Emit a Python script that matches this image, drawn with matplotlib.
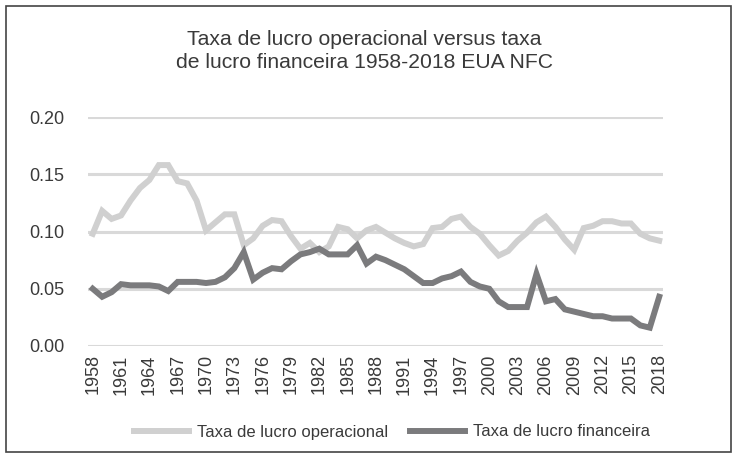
import numpy as np
import matplotlib
matplotlib.use("Agg")
import matplotlib.pyplot as plt
from matplotlib.patches import Rectangle

plt.rcParams['font.family'] = ['Liberation Sans', 'DejaVu Sans']

years = list(range(1958, 2019))

# taxa de lucro operacional (light gray)
operacional = [
    0.098, 0.118, 0.111, 0.114, 0.127, 0.138, 0.145, 0.158, 0.158, 0.144,
    0.142, 0.127, 0.101, 0.108, 0.115, 0.115, 0.088, 0.094, 0.105, 0.110,
    0.109, 0.096, 0.085, 0.090, 0.082, 0.087, 0.104, 0.102, 0.094, 0.101,
    0.104, 0.099, 0.094, 0.090, 0.087, 0.089, 0.103, 0.104, 0.111, 0.113,
    0.104, 0.098, 0.088, 0.079, 0.083, 0.092, 0.099, 0.108, 0.113, 0.104,
    0.093, 0.084, 0.103, 0.105, 0.109, 0.109, 0.107, 0.107, 0.098, 0.094,
    0.092,
]

# taxa de lucro financeira (dark gray)
financeira = [
    0.050, 0.043, 0.047, 0.054, 0.053, 0.053, 0.053, 0.052, 0.048, 0.056,
    0.056, 0.056, 0.055, 0.056, 0.060, 0.068, 0.082, 0.058, 0.064, 0.068,
    0.067, 0.074, 0.080, 0.082, 0.085, 0.080, 0.080, 0.080, 0.088, 0.072,
    0.078, 0.075, 0.071, 0.067, 0.061, 0.055, 0.055, 0.059, 0.061, 0.065,
    0.056, 0.052, 0.050, 0.039, 0.034, 0.034, 0.034, 0.063, 0.039, 0.041,
    0.032, 0.030, 0.028, 0.026, 0.026, 0.024, 0.024, 0.024, 0.018, 0.016,
    0.043,
]

title = "Taxa de lucro operacional versus taxa\nde lucro financeira 1958-2018 EUA NFC"
labels = ["Taxa de lucro operacional", "Taxa de lucro financeira"]
colors = ["#d0d0d0", "#7b7b7d"]
text_color = "#3a3a3a"

fig = plt.figure(figsize=(7.38, 4.57), dpi=100)
ax = fig.add_axes([88 / 738, 111 / 457, 575 / 738, 229 / 457])

ax.plot(years, operacional, color=colors[0], lw=4.3, label=labels[0],
        solid_joinstyle="miter", zorder=3)
ax.plot(years, financeira, color=colors[1], lw=4.3, label=labels[1],
        solid_joinstyle="miter", zorder=4)

ax.set_xlim(1957.5, 2018.4)
ax.set_ylim(0, 0.2)
ax.set_yticks(np.arange(0, 0.201, 0.05))
ax.set_yticklabels([f"{v:.2f}" for v in np.arange(0, 0.201, 0.05)])
ax.set_xticks(years[::3])
ax.set_xticklabels([str(y) for y in years[::3]], rotation=90)
ax.tick_params(axis="both", length=0, labelsize=13, labelcolor=text_color)
ax.tick_params(axis="y", pad=17)
ax.tick_params(axis="x", pad=6)
ax.grid(axis="y", color="#d9d9d9", lw=2.2, zorder=0)
ax.set_axisbelow(True)
for s in ax.spines.values():
    s.set_visible(False)

fig.text(0.494, 0.888, title, ha="center", va="center", fontsize=15.2,
         color=text_color, linespacing=1.3)

fig.legend(loc="center", bbox_to_anchor=(0.531, 1 - 432 / 457), ncol=2,
           frameon=False, fontsize=12, handlelength=3.3, handletextpad=0.5,
           columnspacing=1.3, labelcolor=text_color)

fig.patches.append(Rectangle((6 / 738, 5 / 457), 725 / 738, 446 / 457,
                             transform=fig.transFigure, fill=False,
                             edgecolor="#444444", lw=1.2))

fig.savefig("out.png", dpi=100)
